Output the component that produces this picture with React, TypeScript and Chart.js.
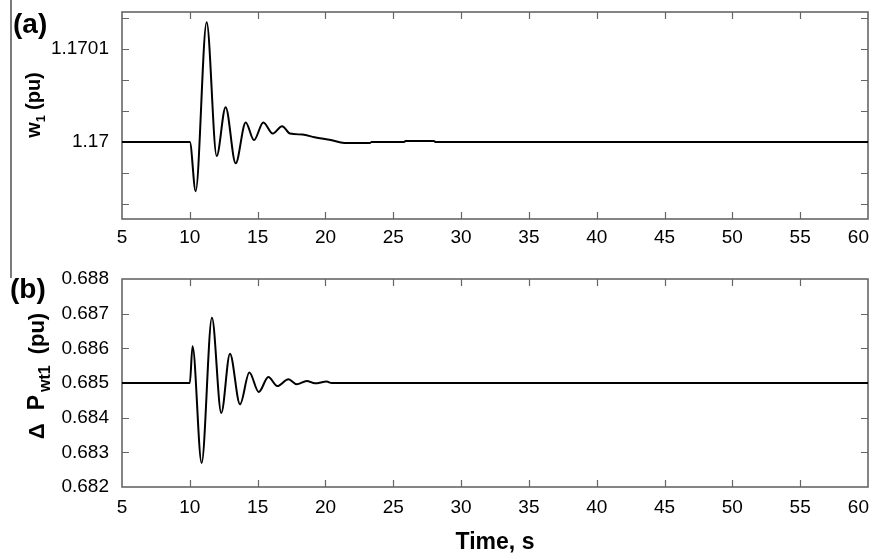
import { useEffect, useRef } from 'react';
import { Chart, registerables } from 'chart.js';

Chart.register(...registerables);

// ---------- data ----------
// panel (a): rotor speed w1 (pu)
const timeA = [5, 10.0, 10.43, 11.24, 11.98, 12.64, 13.38, 14.12, 14.73, 15.42, 16.11, 16.8, 17.39, 18.3, 19.2, 20.4, 21.4, 23.3, 23.4, 25.8, 25.9, 28.0, 28.1, 60];
const omegaA = [1.17, 1.17, 1.169947, 1.170129, 1.169985, 1.1700375, 1.169977, 1.170021, 1.170002, 1.170021, 1.170009, 1.170017, 1.170009, 1.170008, 1.170005, 1.170002, 1.169999, 1.169999, 1.17, 1.17, 1.170001, 1.170001, 1.17, 1.17];

// panel (b): delta P_wt1 (pu)
const timeB = [5, 10.0, 10.2, 10.87, 11.63, 12.32, 12.96, 13.7, 14.39, 15.08, 15.79, 16.45, 17.27, 17.88, 18.62, 19.23, 20.09, 20.46, 60];
const powerB = [0.685, 0.685, 0.68606, 0.682695, 0.686884, 0.684135, 0.685847, 0.684386, 0.6853, 0.68474, 0.685173, 0.684914, 0.685107, 0.684962, 0.685058, 0.68499, 0.68504, 0.685, 0.685];

// axes
const xTickValues = [5, 10, 15, 20, 25, 30, 35, 40, 45, 50, 55, 60];
const xTickLabels = ['5', '10', '15', '20', '25', '30', '35', '40', '45', '50', '55', '60'];
const yTickValuesA = [1.1699333, 1.1699667, 1.17, 1.1700333, 1.1700667, 1.1701, 1.1701333];
const yTickLabelsA = ['', '', '1.17', '', '', '1.1701', ''];
const yTickValuesB = [0.682, 0.683, 0.684, 0.685, 0.686, 0.687, 0.688];
const yTickLabelsB = ['0.682', '0.683', '0.684', '0.685', '0.686', '0.687', '0.688'];
const yRangeA = [1.169917, 1.17014];
const yRangeB = [0.682, 0.688];
const xRange = [5, 60];

const FAMILY = '"Liberation Sans", Arial, Helvetica, sans-serif';
const FRAME = '#666666';

type Piece = { text: string; size: number; sub?: number; gap?: number };

type Decor = {
  panel: string;
  panelX: number;
  panelY: number;
  title: Piece[];
  titleX: number;
  titleY: number;
  vline: [number, number];
};

function makeDecorPlugin(d: Decor) {
  return {
    id: 'decor',
    beforeDraw(chart: any) {
      // keep the last x label ("60") inside the frame, right-aligned like the reference
      try {
        const xs = chart.scales.x;
        const items = xs.getLabelItems(chart.chartArea);
        if (items && items.length) {
          const last = items[items.length - 1];
          last.options.textAlign = 'right';
          last.options.translation = [chart.chartArea.right + 1, last.options.translation[1]];
        }
      } catch (e) {
        /* ignore */
      }
    },
    beforeDatasetsDraw(chart: any) {
      const ctx: CanvasRenderingContext2D = chart.ctx;
      const { left, right, top, bottom } = chart.chartArea;
      const xs = chart.scales.x;
      const ys = chart.scales.y;
      const tl = 7;
      ctx.save();
      ctx.strokeStyle = FRAME;
      ctx.lineWidth = 1.2;
      ctx.beginPath();
      xs.ticks.forEach((t: any) => {
        if (t.value <= xs.min || t.value >= xs.max) return;
        const px = Math.round(xs.getPixelForValue(t.value)) + 0.5;
        ctx.moveTo(px, bottom);
        ctx.lineTo(px, bottom - tl);
        ctx.moveTo(px, top);
        ctx.lineTo(px, top + tl);
      });
      ys.ticks.forEach((t: any) => {
        if (t.value <= ys.min || t.value >= ys.max) return;
        const py = Math.round(ys.getPixelForValue(t.value)) + 0.5;
        ctx.moveTo(left, py);
        ctx.lineTo(left + tl, py);
        ctx.moveTo(right, py);
        ctx.lineTo(right - tl, py);
      });
      ctx.stroke();
      ctx.lineWidth = 1.6;
      ctx.strokeRect(left, top, right - left, bottom - top);
      ctx.restore();
    },
    afterDraw(chart: any) {
      const ctx: CanvasRenderingContext2D = chart.ctx;
      ctx.save();
      // left edge line of the figure
      ctx.strokeStyle = '#444';
      ctx.lineWidth = 1.4;
      ctx.beginPath();
      ctx.moveTo(11, d.vline[0]);
      ctx.lineTo(11, d.vline[1]);
      ctx.stroke();
      // panel label
      ctx.fillStyle = '#000';
      ctx.font = `bold 28px ${FAMILY}`;
      ctx.textAlign = 'left';
      ctx.textBaseline = 'alphabetic';
      ctx.fillText(d.panel, d.panelX, d.panelY);
      // rotated y title with subscripts
      ctx.translate(d.titleX, d.titleY);
      ctx.rotate(-Math.PI / 2);
      const widths = d.title.map((p) => {
        ctx.font = `bold ${p.size}px ${FAMILY}`;
        return ctx.measureText(p.text).width;
      });
      let total = 0;
      d.title.forEach((p, i) => (total += widths[i] + (p.gap || 0)));
      let x = -total / 2;
      d.title.forEach((p, i) => {
        x += p.gap || 0;
        ctx.font = `bold ${p.size}px ${FAMILY}`;
        ctx.fillText(p.text, x, p.sub || 0);
        x += widths[i];
      });
      ctx.restore();
    },
  };
}

function buildConfig(
  times: number[],
  values: number[],
  yRange: number[],
  yTicks: number[],
  yLabels: string[],
  pad: { top: number; right: number },
  xAxisHeight: number,
  xLabelPad: number,
  xTitle: string | null,
  decor: Decor
): any {
  return {
    type: 'line',
    data: {
      datasets: [
        {
          data: times.map((t, i) => ({ x: t, y: values[i] })),
          borderColor: '#000',
          borderWidth: 2,
          pointRadius: 0,
          fill: false,
          cubicInterpolationMode: 'monotone',
        },
      ],
    },
    options: {
      responsive: false,
      animation: false,
      events: [],
      layout: { padding: { left: 0, right: pad.right, top: pad.top, bottom: 0 } },
      plugins: { legend: { display: false }, tooltip: { enabled: false } },
      scales: {
        x: {
          type: 'linear',
          min: xRange[0],
          max: xRange[1],
          grid: { display: false, drawTicks: false },
          border: { display: false },
          afterBuildTicks: (s: any) => {
            s.ticks = xTickValues.map((v) => ({ value: v }));
          },
          afterFit: (s: any) => {
            s.height = xAxisHeight;
            s.paddingLeft = 0;
            s.paddingRight = 0;
          },
          ticks: {
            autoSkip: false,
            maxRotation: 0,
            minRotation: 0,
            padding: xLabelPad,
            color: '#000',
            font: { family: FAMILY, size: 19 },
            callback: (_v: any, i: number) => xTickLabels[i],
          },
          title: xTitle
            ? {
                display: true,
                text: xTitle,
                color: '#000',
                font: { family: FAMILY, size: 23, weight: 'bold' },
                padding: { top: 0, bottom: 0 },
              }
            : { display: false },
        },
        y: {
          type: 'linear',
          min: yRange[0],
          max: yRange[1],
          grid: { display: false, drawTicks: false },
          border: { display: false },
          afterBuildTicks: (s: any) => {
            s.ticks = yTicks.map((v) => ({ value: v }));
          },
          afterFit: (s: any) => {
            s.width = 122;
            s.paddingTop = 0;
            s.paddingBottom = 0;
          },
          ticks: {
            autoSkip: false,
            padding: 13,
            color: '#000',
            font: { family: FAMILY, size: 19 },
            callback: (_v: any, i: number) => yLabels[i],
          },
        },
      },
    },
    plugins: [makeDecorPlugin(decor)],
  };
}

export default function App() {
  const refA = useRef<HTMLCanvasElement>(null);
  const refB = useRef<HTMLCanvasElement>(null);

  useEffect(() => {
    const chartA = new Chart(
      refA.current as HTMLCanvasElement,
      buildConfig(timeA, omegaA, yRangeA, yTickValuesA, yTickLabelsA, { top: 12, right: 9 }, 43, 7, null, {
        panel: '(a)',
        panelX: 13,
        panelY: 33,
        title: [
          { text: 'w', size: 20 },
          { text: '1', size: 13, sub: 5 },
          { text: '(pu)', size: 20, gap: 5 },
        ],
        titleX: 40,
        titleY: 105,
        vline: [0, 262],
      })
    );
    const chartB = new Chart(
      refB.current as HTMLCanvasElement,
      buildConfig(timeB, powerB, yRangeB, yTickValuesB, yTickLabelsB, { top: 17, right: 9 }, 69, 9, 'Time, s', {
        panel: '(b)',
        panelX: 10,
        panelY: 36,
        title: [
          { text: 'Δ', size: 22 },
          { text: 'P', size: 23, gap: 13 },
          { text: 'wt1', size: 16, sub: 6, gap: 3 },
          { text: '(pu)', size: 22, gap: 11 },
        ],
        titleX: 44,
        titleY: 114,
        vline: [0, 16],
      })
    );
    return () => {
      chartA.destroy();
      chartB.destroy();
    };
  }, []);

  return (
    <div style={{ position: 'fixed', left: 0, top: 0, width: 877, height: 556, background: '#fff', overflow: 'hidden' }}>
      <canvas ref={refA} width={877} height={262} style={{ position: 'absolute', left: 0, top: 0, display: 'block' }} />
      <canvas ref={refB} width={877} height={294} style={{ position: 'absolute', left: 0, top: 262, display: 'block' }} />
    </div>
  );
}
